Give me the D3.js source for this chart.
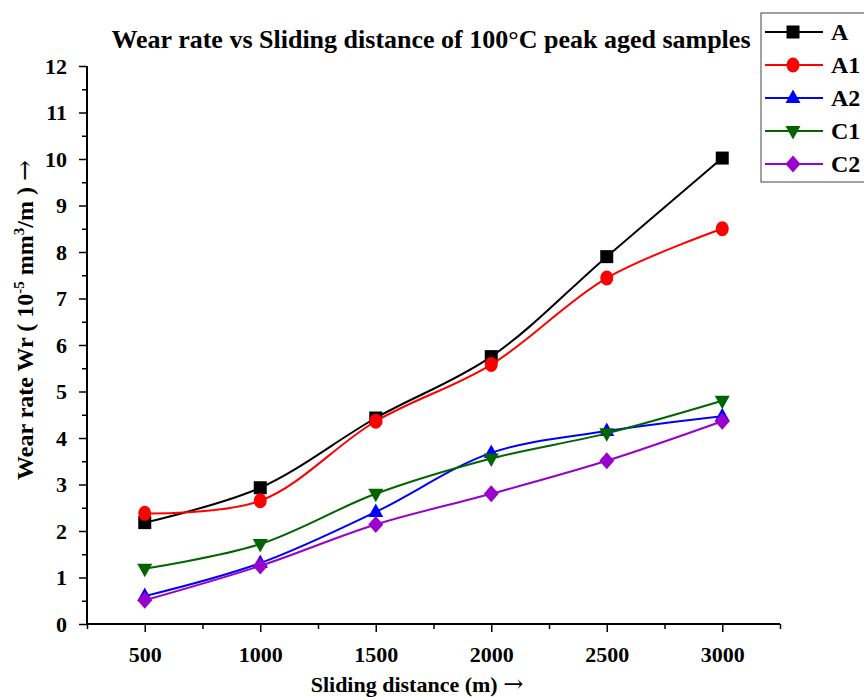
<!DOCTYPE html>
<html><head><meta charset="utf-8">
<script src="https://cdn.jsdelivr.net/npm/d3@7"></script>
<style>body{margin:0;background:#fff}text{font-family:"Liberation Serif","Times New Roman",serif;font-weight:bold}</style>
</head><body><svg id="c" width="864" height="697"></svg>
<script>
const distances = [500, 1000, 1500, 2000, 2500, 3000];
const seriesNames = ["A", "A1", "A2", "C1", "C2"];
const valuesA  = [2.18, 2.93, 4.43, 5.75, 7.90, 10.02];
const valuesA1 = [2.38, 2.65, 4.36, 5.58, 7.44, 8.50];
const valuesA2 = [0.60, 1.31, 2.41, 3.68, 4.15, 4.47];
const valuesC1 = [1.19, 1.72, 2.80, 3.56, 4.10, 4.80];
const valuesC2 = [0.51, 1.25, 2.14, 2.80, 3.51, 4.36];
const xTicks = [500, 1000, 1500, 2000, 2500, 3000];
const yTicks = [0,1,2,3,4,5,6,7,8,9,10,11,12];

const colors = ["#000000", "#ff0000", "#0000ff", "#006400", "#9900cc"];
const shapes = ["square", "circle", "triangle", "triangleDown", "diamond"];
const allValues = [valuesA, valuesA1, valuesA2, valuesC1, valuesC2];
const series = seriesNames.map((n, i) => ({name: n, values: allValues[i], color: colors[i], shape: shapes[i]}));

const svg = d3.select("#c");
const x = d3.scaleLinear().domain([250, 3250]).range([87, 780]);
const y = d3.scaleLinear().domain([0, 12]).range([624, 66]);

function marker(g, shape, cx, cy, color) {
  const s = 6.5;
  let el;
  if (shape === "square") el = g.append("rect").attr("x", cx - s).attr("y", cy - s).attr("width", 2*s).attr("height", 2*s);
  else if (shape === "circle") el = g.append("ellipse").attr("cx", cx).attr("cy", cy).attr("rx", 6.5).attr("ry", 7.5);
  else if (shape === "triangle") el = g.append("path").attr("d", `M${cx},${cy-8.5}L${cx+7.5},${cy+5}L${cx-7.5},${cy+5}Z`);
  else if (shape === "triangleDown") el = g.append("path").attr("d", `M${cx},${cy+8.5}L${cx+7.5},${cy-5}L${cx-7.5},${cy-5}Z`);
  else el = g.append("path").attr("d", `M${cx},${cy-8.5}L${cx+7.5},${cy}L${cx},${cy+8.5}L${cx-7.5},${cy}Z`);
  el.attr("fill", color);
}

// axes
const xAxis = d3.axisBottom(x).tickValues(xTicks).tickSize(8).tickFormat(d3.format("d"));
const xMinor = d3.axisBottom(x).tickValues(d3.range(250, 3251, 500)).tickSize(5).tickFormat("");
const gx = svg.append("g").attr("transform", "translate(0,624)");
gx.call(xAxis);
gx.append("g").call(xMinor);
gx.selectAll(".domain").attr("stroke-width", 2).attr("d", "M87,0H780");
gx.selectAll("line").attr("stroke-width", 1.5);
gx.selectAll("text").attr("font-size", 22).attr("fill", "#000").attr("y", 38).attr("dy", 0);

const yAxis = d3.axisLeft(y).tickValues(yTicks).tickSize(8).tickPadding(12);
const yMinor = d3.axisLeft(y).tickValues(d3.range(0.5, 12, 1)).tickSize(5).tickFormat("");
const gy = svg.append("g").attr("transform", "translate(87,0)");
gy.call(yAxis);
gy.append("g").call(yMinor);
gy.selectAll(".domain").attr("stroke-width", 2).attr("d", "M0,66V624");
gy.selectAll("line").attr("stroke-width", 1.5);
gy.selectAll("text").attr("font-size", 22).attr("fill", "#000");

// lines
const line = d3.line().x((d, i) => x(distances[i])).y(d => y(d)).curve(d3.curveCatmullRom.alpha(0.5));
series.forEach(s => {
  svg.append("path").attr("d", line(s.values)).attr("fill", "none").attr("stroke", s.color).attr("stroke-width", 2);
  const g = svg.append("g");
  s.values.forEach((v, i) => marker(g, s.shape, x(distances[i]), y(v), s.color));
});

// title
svg.append("text").attr("x", 431).attr("y", 48).attr("text-anchor", "middle").attr("font-size", 26).text("Wear rate vs Sliding distance of 100°C peak aged samples");

// x label
const xl = svg.append("text").attr("x", 417).attr("y", 692).attr("text-anchor", "middle").attr("font-size", 22);
xl.append("tspan").text("Sliding distance (m) ");
xl.append("tspan").attr("font-family", "DejaVu Serif").attr("font-weight", "normal").attr("font-size", 24).text("→");

// y label
const yl = svg.append("text").attr("transform", "translate(33,320) rotate(-90)").attr("text-anchor", "middle").attr("font-size", 24);
yl.append("tspan").text("Wear rate Wr ( 10");
yl.append("tspan").attr("font-size", 15).attr("dy", -9).text("-5");
yl.append("tspan").attr("dy", 9).text(" mm");
yl.append("tspan").attr("font-size", 15).attr("dy", -9).text("3");
yl.append("tspan").attr("dy", 9).text("/m ) ");
yl.append("tspan").attr("font-family", "DejaVu Serif").attr("font-weight", "normal").attr("font-size", 25).text("→");

// legend
svg.append("rect").attr("x", 761).attr("y", 13).attr("width", 110).attr("height", 169).attr("fill", "#fff").attr("stroke", "#444").attr("stroke-width", 1);
series.forEach((s, i) => {
  const cy = 32 + i * 33;
  const g = svg.append("g");
  g.append("line").attr("x1", 765).attr("x2", 823).attr("y1", cy).attr("y2", cy).attr("stroke", s.color).attr("stroke-width", 2);
  marker(g, s.shape, 793, cy, s.color);
  g.append("text").attr("x", 831).attr("y", cy + 8).attr("font-size", 24).text(s.name);
});
</script></body></html>
